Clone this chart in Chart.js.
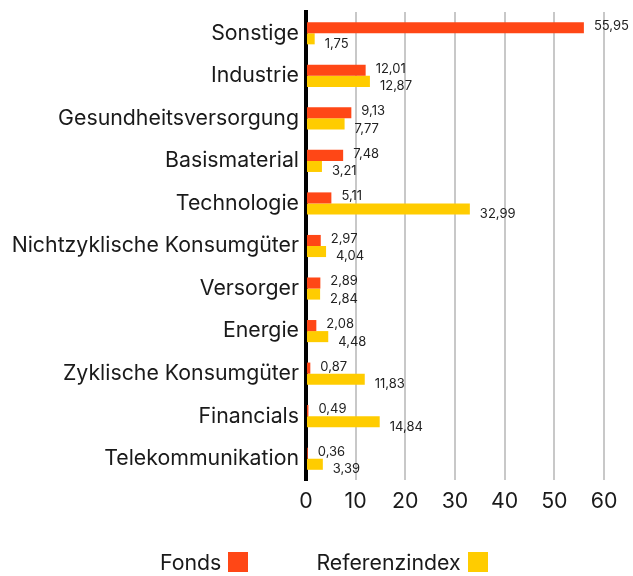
<!DOCTYPE html>
<html>
<head>
    <meta charset="UTF-8">
    <title>Sektoren Fonds vs Referenzindex</title>
    <script src="https://cdn.jsdelivr.net/npm/chart.js@4.4.1/dist/chart.umd.min.js"></script>
    <style type="text/css">
        body { margin: 0; background: #fff; }
        #wrap { position: relative; width: 633px; height: 576px; }
        #legend {
            position: absolute; left: 160px; top: 549px;
            font-family: Inter, sans-serif; font-size: 21.3px; color: #1a1a1a;
            display: flex; align-items: center; white-space: nowrap;
        }
        #legend .item { display: flex; align-items: center; margin-right: 68px; }
        #legend .box { width: 20px; height: 20px; margin-left: 7px; }
    </style>
</head>
<body>

<div id="wrap">
    <canvas id="sectorChart" width="633" height="576"></canvas>
    <div id="legend"></div>
</div>

<script>
    // chart data
    const categories = ['Sonstige', 'Industrie', 'Gesundheitsversorgung', 'Basismaterial', 'Technologie',
        'Nichtzyklische Konsumgüter', 'Versorger', 'Energie', 'Zyklische Konsumgüter', 'Financials', 'Telekommunikation'];
    const fonds = [55.95, 12.01, 9.13, 7.48, 5.11, 2.97, 2.89, 2.08, 0.87, 0.49, 0.36];
    const referenzindex = [1.75, 12.87, 7.77, 3.21, 32.99, 4.04, 2.84, 4.48, 11.83, 14.84, 3.39];
    const xTicks = [0, 10, 20, 30, 40, 50, 60];

    const seriesNames = ['Fonds', 'Referenzindex'];
    const seriesColors = ['#ff4716', '#ffcc00'];
    const labelShift = [-1.5, 5];   // vertical nudge of value labels per series

    // value labels to the right of each bar
    const valueLabels = {
        id: 'valueLabels',
        afterDatasetsDraw(chart) {
            const ctx = chart.ctx;
            ctx.save();
            ctx.font = '13px Inter';
            ctx.fillStyle = '#222';
            ctx.textAlign = 'left';
            ctx.textBaseline = 'middle';
            chart.data.datasets.forEach(function(ds, i) {
                chart.getDatasetMeta(i).data.forEach(function(bar, j) {
                    const txt = ds.data[j].toFixed(2).replace('.', ',');
                    ctx.fillText(txt, bar.x + 10, bar.y + labelShift[i]);
                });
            });
            ctx.restore();
        }
    };

    const ctx = document.getElementById('sectorChart').getContext('2d');
    new Chart(ctx, {
        type: 'bar',
        data: {
            labels: categories,
            datasets: [{
                label: seriesNames[0],
                data: fonds,
                backgroundColor: seriesColors[0],
                categoryPercentage: 0.52,
                barPercentage: 1
            }, {
                label: seriesNames[1],
                data: referenzindex,
                backgroundColor: seriesColors[1],
                categoryPercentage: 0.52,
                barPercentage: 1
            }]
        },
        options: {
            indexAxis: 'y',
            responsive: false,
            animation: false,
            devicePixelRatio: 1,
            layout: { padding: { left: 8, right: 29, top: 12, bottom: 65 } },
            plugins: {
                legend: { display: false },
                tooltip: { enabled: false }
            },
            scales: {
                x: {
                    min: 0,
                    max: 60,
                    afterBuildTicks: function(axis) {
                        axis.ticks = xTicks.map(v => ({ value: v }));
                    },
                    afterFit: function(axis) {
                        axis.height = 31;
                        axis.paddingLeft = 0;
                        axis.paddingRight = 0;
                    },
                    grid: {
                        color: c => c.tick && c.tick.value === 0 ? 'rgba(0,0,0,0)' : '#c8c8c8',
                        lineWidth: 2,
                        drawTicks: false
                    },
                    border: { display: false },
                    ticks: {
                        padding: 9,
                        color: '#1a1a1a',
                        font: { family: 'Inter', size: 21.3 }
                    }
                },
                y: {
                    afterFit: function(axis) {
                        axis.paddingTop = 0;
                        axis.paddingBottom = 0;
                    },
                    grid: { display: false, drawTicks: false },
                    border: { display: true, color: '#000', width: 4 },
                    ticks: {
                        padding: 7,
                        color: '#1a1a1a',
                        font: { family: 'Inter', size: 21.3 }
                    }
                }
            }
        },
        plugins: [valueLabels]
    });

    // legend: text first, colour box after it
    const legend = document.getElementById('legend');
    seriesNames.forEach(function(name, i) {
        const item = document.createElement('div');
        item.className = 'item';
        const txt = document.createElement('span');
        txt.textContent = name;
        const box = document.createElement('span');
        box.className = 'box';
        box.style.background = seriesColors[i];
        item.appendChild(txt);
        item.appendChild(box);
        legend.appendChild(item);
    });
</script>
</body>
</html>
